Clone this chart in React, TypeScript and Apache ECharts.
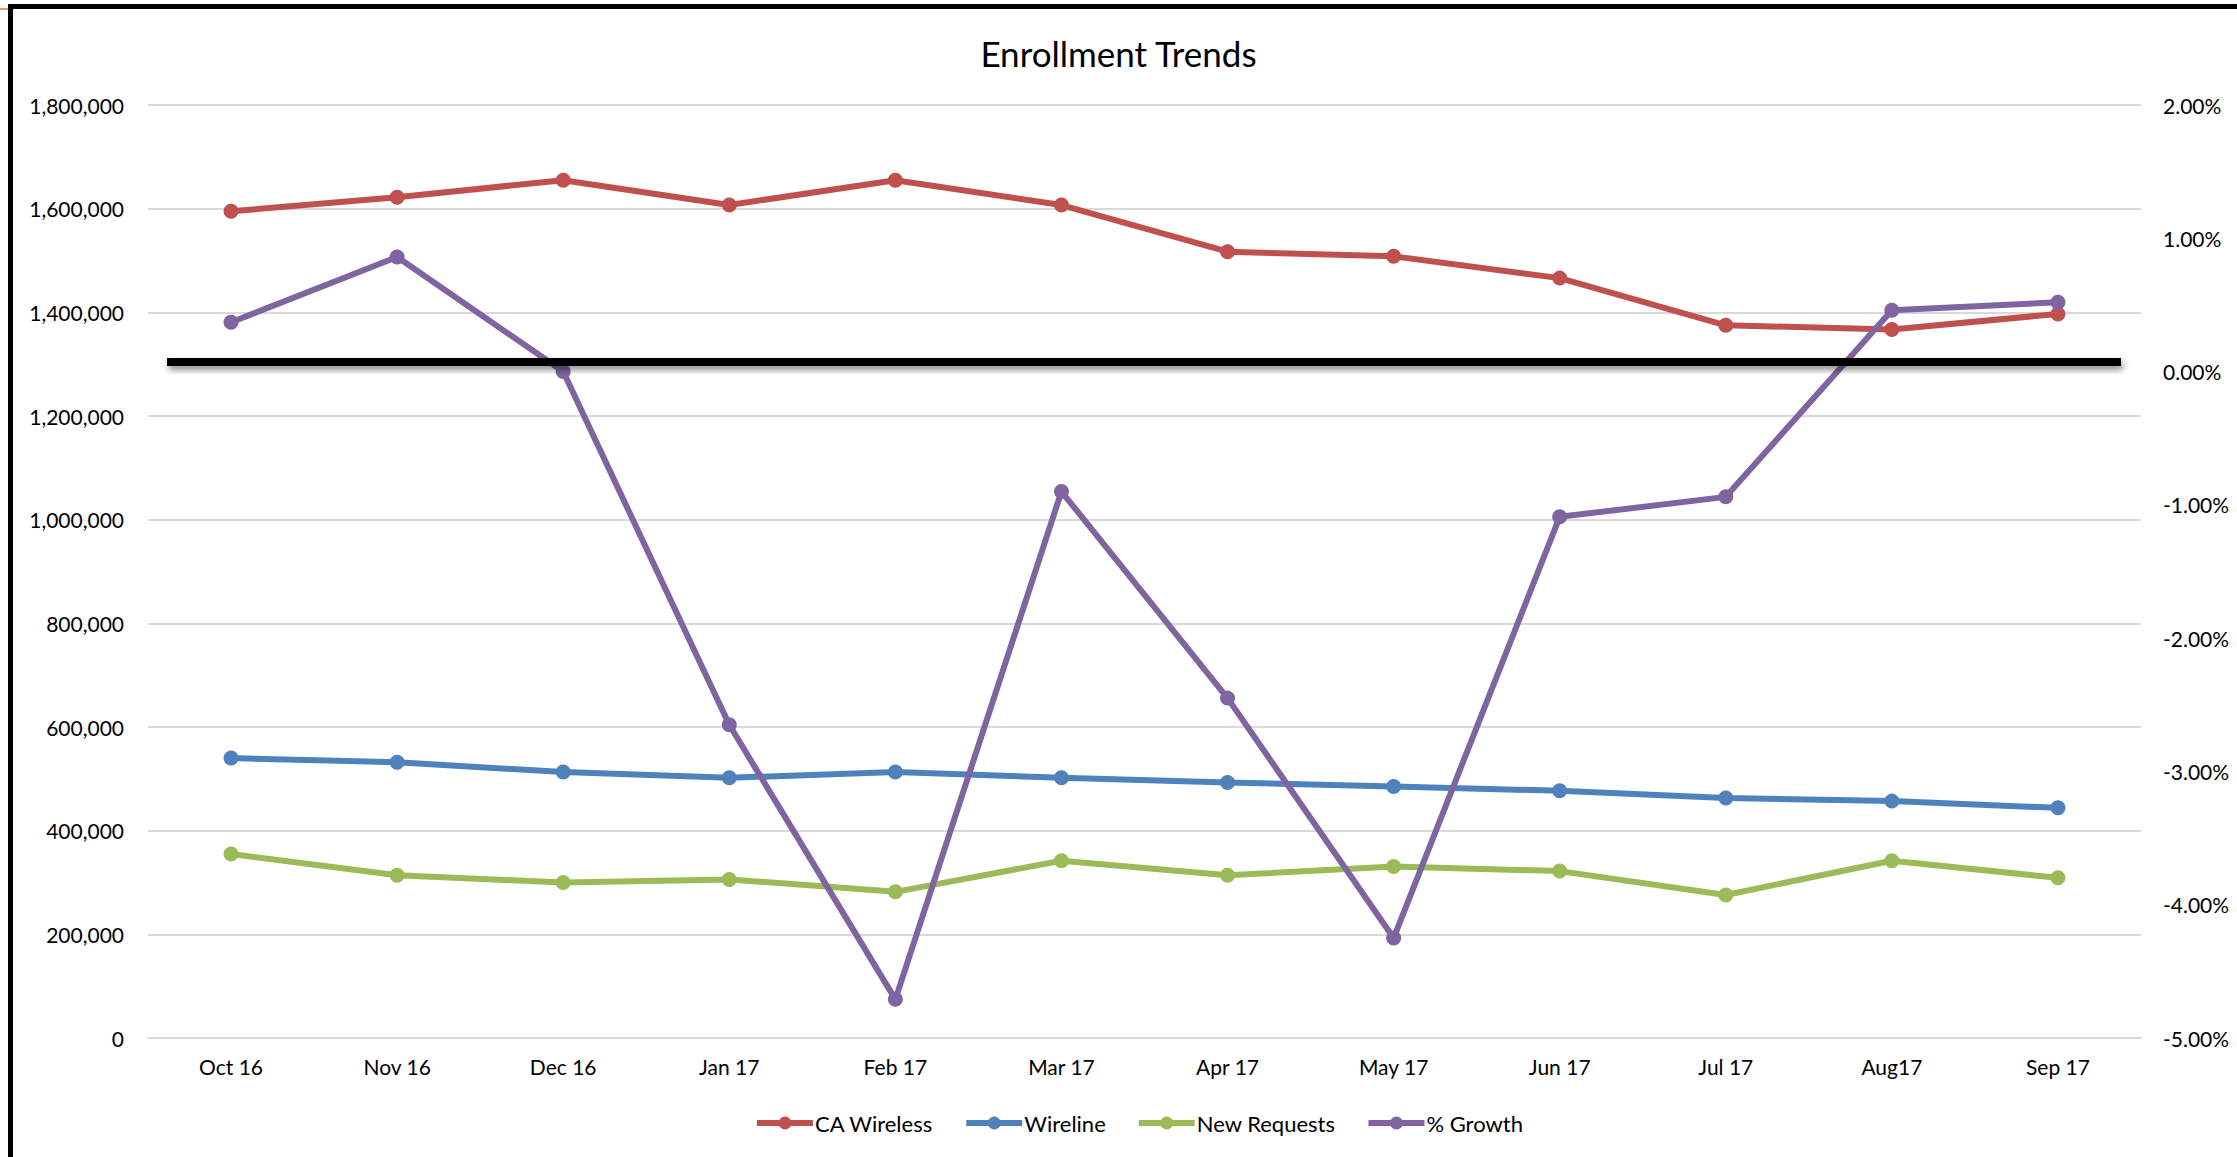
import React, { useEffect, useRef } from "react";
import * as echarts from "echarts";

const categories = ["Oct 16", "Nov 16", "Dec 16", "Jan 17", "Feb 17", "Mar 17", "Apr 17", "May 17", "Jun 17", "Jul 17", "Aug17", "Sep 17"];
const caWireless = [1595000, 1622000, 1655000, 1607000, 1655000, 1607000, 1517000, 1508000, 1466000, 1375000, 1367000, 1397000];
const wireline = [540000, 532000, 513000, 502000, 513000, 502000, 493000, 485000, 477000, 463000, 457000, 444000];
const newRequests = [355000, 314000, 300000, 306000, 282000, 342000, 314000, 331000, 322000, 276000, 342000, 309000];
// % Growth, in percent
const growth = [0.37, 0.86, 0.0, -2.65, -4.71, -0.9, -2.45, -4.25, -1.09, -0.94, 0.46, 0.52];
const leftTicks = { min: 0, max: 1800000, interval: 200000 };
const rightTicks = { min: -5, max: 2, interval: 1 };

const FONT = "Lato, 'Open Sans', sans-serif";

export default function App() {
  const ref = useRef<HTMLDivElement>(null);
  useEffect(() => {
    if (!ref.current) return;
    const chart = echarts.init(ref.current, null, { renderer: "svg" });
    const mk = (name: string, data: number[], color: string, yAxisIndex = 0) => ({
      name,
      type: "line",
      data,
      yAxisIndex,
      symbol: "circle",
      symbolSize: 15,
      lineStyle: { width: 6, color },
      itemStyle: { color },
      z: 3,
    });
    chart.setOption({
      animation: false,
      backgroundColor: "#ffffff",
      textStyle: { fontFamily: FONT },
      title: {
        text: "Enrollment Trends",
        left: "center",
        top: 30,
        textStyle: { fontFamily: FONT, fontSize: 35, fontWeight: "normal", color: "#000" },
      },
      grid: { left: 148, right: 96, top: 105, bottom: 119, containLabel: false },
      legend: {
        left: 749,
        top: 1107,
        itemWidth: 56,
        itemHeight: 16,
        itemGap: 30,
        lineStyle: { width: 6 },
        textStyle: { fontFamily: FONT, fontSize: 22, color: "#000", padding: [0, 0, 0, -3] },
        data: ["CA Wireless", "Wireline", "New Requests", "% Growth"],
      },
      xAxis: {
        type: "category",
        data: categories,
        boundaryGap: true,
        axisLine: { show: true, lineStyle: { color: "#D9D9D9", width: 2 } },
        axisTick: { show: false },
        axisLabel: { fontFamily: FONT, fontSize: 21, color: "#000", margin: 18 },
      },
      yAxis: [
        {
          type: "value",
          ...leftTicks,
          axisLine: { show: false },
          axisTick: { show: false },
          splitLine: { lineStyle: { color: "#D9D9D9", width: 2 } },
          axisLabel: {
            fontFamily: FONT,
            fontSize: 21,
            color: "#000",
            margin: 24,
            formatter: (v: number) => v.toLocaleString("en-US"),
          },
        },
        {
          type: "value",
          ...rightTicks,
          position: "right",
          axisLine: { show: false },
          axisTick: { show: false },
          splitLine: { show: false },
          axisLabel: {
            fontFamily: FONT,
            fontSize: 21,
            color: "#000",
            margin: 22,
            formatter: (v: number) => v.toFixed(2) + "%",
          },
        },
      ],
      series: [
        mk("CA Wireless", caWireless, "#C0504D"),
        mk("Wireline", wireline, "#4F81BD"),
        mk("New Requests", newRequests, "#9BBB59"),
        mk("% Growth", growth, "#8064A2", 1),
      ],
      graphic: [
        { type: "rect", shape: { x: 8, y: 4, width: 5, height: 1157 }, style: { fill: "#000" }, z: 10 },
        { type: "rect", shape: { x: 8, y: 4, width: 2237, height: 5 }, style: { fill: "#000" }, z: 10 },
        { type: "rect", shape: { x: 0, y: 8, width: 8, height: 2 }, style: { fill: "#F79646" }, z: 10 },
        {
          type: "rect",
          shape: { x: 167, y: 358, width: 1954, height: 8 },
          style: {
            fill: "#000",
            shadowBlur: 6,
            shadowOffsetX: 2,
            shadowOffsetY: 4,
            shadowColor: "rgba(0,0,0,0.45)",
          },
          z: 20,
        },
      ],
    });
    return () => chart.dispose();
  }, []);
  return (
    <div
      ref={ref}
      style={{ position: "fixed", left: 0, top: 0, width: 2237, height: 1157, background: "#fff" }}
    />
  );
}
